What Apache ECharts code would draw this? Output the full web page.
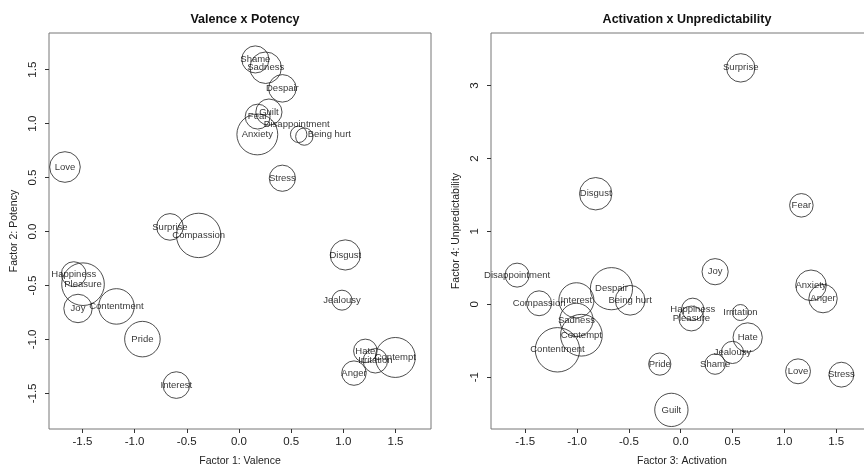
<!DOCTYPE html>
<html>
<head>
<meta charset="utf-8">
<script src="https://cdn.jsdelivr.net/npm/echarts@6/dist/echarts.min.js"></script>
<style>
html,body{margin:0;padding:0;background:#fff;overflow:hidden;width:864px;height:472px;}
#chart{width:874px;height:472px;}
</style>
</head>
<body>
<div id="chart"></div>
<script>
// ---- data ----
var emotions = ["Shame","Sadness","Despair","Guilt","Fear","Disappointment","Being hurt","Anxiety","Love","Stress","Surprise","Compassion","Disgust","Happiness","Pleasure","Joy","Contentment","Jealousy","Pride","Hate","Irritation","Contempt","Anger","Interest"];

// Panel 1: Valence x Potency
var valence  = [0.157, 0.256, 0.416, 0.287, 0.179, 0.572, 0.626, 0.176, -1.667, 0.416, -0.661, -0.386, 1.019, -1.583, -1.494, -1.542, -1.174, 0.987, -0.925, 1.211, 1.307, 1.498, 1.102, -0.600];
var potency  = [1.595, 1.518, 1.327, 1.107, 1.065, 0.901, 0.880, 0.900, 0.598, 0.494, 0.043, -0.036, -0.217, -0.395, -0.488, -0.713, -0.694, -0.636, -0.997, -1.106, -1.198, -1.167, -1.312, -1.423];
var sizeVP   = [0.61, 0.71, 0.62, 0.59, 0.56, 0.37, 0.39, 0.92, 0.69, 0.59, 0.60, 1.00, 0.68, 0.56, 0.96, 0.64, 0.80, 0.45, 0.80, 0.53, 0.55, 0.90, 0.55, 0.60];

// Panel 2: Activation x Unpredictability
var activation       = [0.332, -1.006, -0.668, -0.090, 1.164, -1.578, -0.488, 1.257, 1.132, 1.550, 0.579, -1.366, -0.820, 0.116, 0.103, 0.332, -1.189, 0.499, -0.202, 0.646, 0.576, -0.958, 1.373, -1.006];
var unpredictability = [-0.820, -0.214, 0.214, -1.448, 1.357, 0.400, 0.055, 0.260, -0.919, -0.965, 3.242, 0.014, 1.516, -0.068, -0.195, 0.447, -0.624, -0.660, -0.820, -0.455, -0.113, -0.424, 0.078, 0.055];
var sizeAU           = [0.46, 0.75, 0.95, 0.75, 0.53, 0.54, 0.67, 0.69, 0.56, 0.56, 0.64, 0.56, 0.73, 0.50, 0.56, 0.59, 1.00, 0.50, 0.50, 0.66, 0.36, 0.94, 0.64, 0.79];

var ticksVP_x = [-1.5, -1.0, -0.5, 0.0, 0.5, 1.0, 1.5];
var ticksVP_y = [-1.5, -1.0, -0.5, 0.0, 0.5, 1.0, 1.5];
var ticksAU_x = [-1.5, -1.0, -0.5, 0.0, 0.5, 1.0, 1.5];
var ticksAU_y = [-1, 0, 1, 2, 3];

// ---- styling ----
var FONT = "Liberation Sans";
var MAXR = 22.2; // pixel radius of the largest circle
var labelNudge = { 0: { "Disappointment": [-2, -10], "Being hurt": [25, -2] } };

function buildData(xs, ys, ss) {
  return emotions.map(function (name, i) {
    return { name: name, value: [xs[i], ys[i]], symbolSize: 2 * MAXR * ss[i] };
  });
}

function xAxisCfg(idx, name, ticks, min, max, dec) {
  return {
    gridIndex: idx, type: 'value', min: min, max: max,
    name: name, nameLocation: 'middle', nameGap: 27,
    nameTextStyle: { fontFamily: FONT, fontSize: 10.5, color: '#222' },
    axisLine: { show: false, onZero: false },
    splitLine: { show: false },
    axisTick: { show: true, length: 4, customValues: ticks, lineStyle: { color: '#333', width: 1 } },
    axisLabel: { show: true, customValues: ticks, margin: 7, fontFamily: FONT, fontSize: 11.5, color: '#222',
      formatter: function (v) { return Number(v).toFixed(dec); } }
  };
}
function yAxisCfg(idx, name, ticks, min, max, dec) {
  return {
    gridIndex: idx, type: 'value', min: min, max: max,
    name: name, nameLocation: 'middle', nameGap: 29,
    nameTextStyle: { fontFamily: FONT, fontSize: 10.5, color: '#222' },
    axisLine: { show: false, onZero: false },
    splitLine: { show: false },
    axisTick: { show: true, length: 4, customValues: ticks, lineStyle: { color: '#333', width: 1 } },
    axisLabel: { show: true, customValues: ticks, rotate: 90, margin: 10, fontFamily: FONT, fontSize: 11.5, color: '#222',
      formatter: function (v) { return Number(v).toFixed(dec); } }
  };
}

function seriesCfg(idx, data) {
  return {
    type: 'scatter', xAxisIndex: idx, yAxisIndex: idx,
    symbol: 'circle',
    data: data,
    itemStyle: { color: 'rgba(0,0,0,0)', borderColor: '#222', borderWidth: 1 },
    emphasis: { disabled: true },
    label: { show: true, position: 'inside', formatter: '{b}', fontFamily: FONT, fontSize: 9.5, color: '#000' },
    labelLayout: function (params) {
      var nud = labelNudge[idx] && labelNudge[idx][emotions[params.dataIndex]];
      if (nud) return { dx: nud[0], dy: nud[1], hideOverlap: false };
      return { hideOverlap: false };
    },
    animation: false
  };
}

var chart = echarts.init(document.getElementById('chart'), null, { renderer: 'canvas' });
chart.setOption({
  backgroundColor: '#fff',
  animation: false,
  title: [
    { text: 'Valence x Potency', left: 240, top: 8, textAlign: 'center',
      textStyle: { fontFamily: FONT, fontSize: 12.5, fontWeight: 'bold', color: '#111' } },
    { text: 'Activation x Unpredictability', left: 682, top: 8, textAlign: 'center',
      textStyle: { fontFamily: FONT, fontSize: 12.5, fontWeight: 'bold', color: '#111' } }
  ],
  grid: [
    { left: 49, top: 33, width: 382, height: 397, show: true, borderColor: '#777', borderWidth: 1, backgroundColor: 'transparent' },
    { left: 491, top: 33, width: 382, height: 397, show: true, borderColor: '#777', borderWidth: 1, backgroundColor: 'transparent' }
  ],
  xAxis: [
    xAxisCfg(0, 'Factor 1: Valence', ticksVP_x, -1.82, 1.84, 1),
    xAxisCfg(1, 'Factor 3: Activation', ticksAU_x, -1.83, 1.855, 1)
  ],
  yAxis: [
    yAxisCfg(0, 'Factor 2: Potency', ticksVP_y, -1.83, 1.84, 1),
    yAxisCfg(1, 'Factor 4: Unpredictability', ticksAU_y, -1.71, 3.72, 0)
  ],
  series: [
    seriesCfg(0, buildData(valence, potency, sizeVP)),
    seriesCfg(1, buildData(activation, unpredictability, sizeAU))
  ]
});
</script>
</body>
</html>
